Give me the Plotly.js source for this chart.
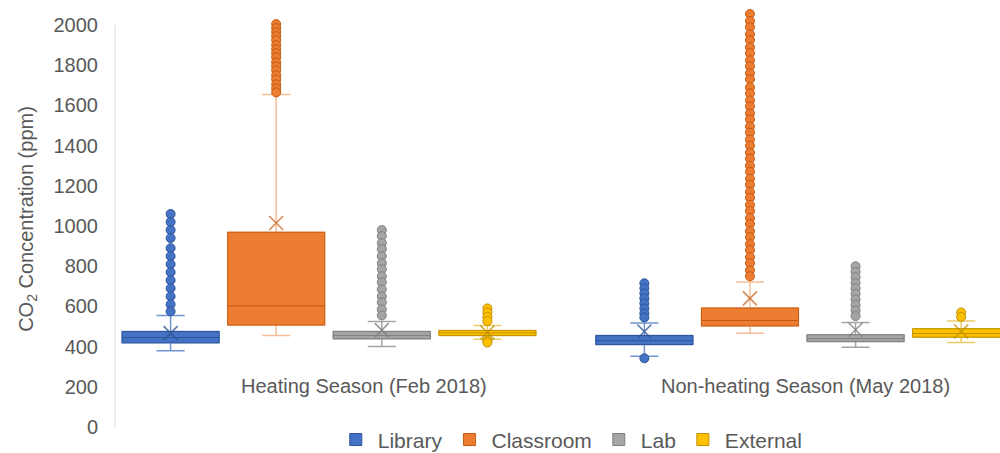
<!DOCTYPE html>
<html><head><meta charset="utf-8">
<script src="https://cdn.plot.ly/plotly-3.0.1.min.js"></script>
<style>html,body{margin:0;padding:0;background:#fff}#chart{width:1000px;height:453px}</style>
</head><body><div id="chart"></div>
<script>
// ---- data ----
const seasons = ['Heating Season (Feb 2018)', 'Non-heating Season (May 2018)'];
const seriesNames = ['Library', 'Classroom', 'Lab', 'External'];
// each row: one series, columns: [heating, non-heating]
const q1Values      = [[419, 410], [507, 503], [439, 425], [455, 447]];
const medianValues  = [[445, 430], [603, 530], [455, 440], [468, 465]];
const q3Values      = [[475, 455], [969, 592], [475, 459], [480, 489]];
const lowerWhisker  = [[379, 352], [455, 467], [400, 397], [437, 420]];
const upperWhisker  = [[555, 517], [1655, 721], [525, 520], [505, 528]];
const meanValues    = [[467, 475], [1015, 640], [482, 484], [470, 475]];

const libraryOutliers = [
  [1060, 1020, 980, 940, 890, 850, 810, 770, 730, 690, 650, 610, 575],
  [715, 690, 665, 640, 615, 590, 565, 545, 342]
];
const classroomOutliers = [
  [2005, 1985, 1965, 1945, 1925, 1900, 1880, 1860, 1840, 1815, 1795, 1775, 1750, 1730, 1705, 1685, 1665],
  [2055, 2020, 1990, 1955, 1925, 1890, 1860, 1825, 1795, 1760, 1730, 1690, 1660, 1625, 1595, 1560, 1530,
   1495, 1465, 1430, 1400, 1365, 1335, 1300, 1270, 1235, 1205, 1170, 1140, 1105, 1075, 1040, 1010, 975,
   945, 910, 880, 845, 815, 780, 750]
];
const labOutliers = [
  [980, 950, 915, 885, 850, 815, 785, 750, 720, 685, 650, 620, 585, 555],
  [800, 772, 745, 717, 690, 662, 635, 607, 580, 552]
];
const externalOutliers = [
  [590, 570, 548, 527, 430, 420],
  [570, 548]
];
const outlierValues = [libraryOutliers, classroomOutliers, labOutliers, externalOutliers];
const yTickValues = [0, 200, 400, 600, 800, 1000, 1200, 1400, 1600, 1800, 2000];

// ---- styles ----
const fillColors    = ['#4472C4', '#ED7D31', '#A5A5A5', '#FFC000'];
const edgeColors    = ['#2F5597', '#C55A11', '#7F7F7F', '#BF9000'];
const whiskerColors = ['rgba(68,114,196,0.75)', 'rgba(237,125,49,0.5)', 'rgba(127,127,127,0.7)', 'rgba(220,170,0,0.6)'];
const meanColors    = ['rgba(47,85,151,0.8)', 'rgba(197,90,17,0.7)', 'rgba(127,127,127,0.8)', 'rgba(191,144,0,0.8)'];

const FONT = 'Liberation Sans, Arial, sans-serif';
const TXT = '#595959';
const slotPitch = 0.2229;     // distance between series slots inside a season (x units)
const boxWidth = 0.2047;
const seasonLabelShift = [0.073, 0.005];
const yTop = 2070;            // axis range top so that outliers above 2000 remain visible

function pos(s, k) { return k + (s - (seriesNames.length - 1) / 2) * slotPitch; }

const traces = [];
seriesNames.forEach((name, s) => {
  seasons.forEach((season, k) => {
    const x = pos(s, k);
    traces.push({
      type: 'box', orientation: 'v', x: [x],
      q1: [q1Values[s][k]], median: [medianValues[s][k]], q3: [q3Values[s][k]],
      lowerfence: [lowerWhisker[s][k]], upperfence: [upperWhisker[s][k]],
      width: boxWidth, whiskerwidth: 0.29, boxpoints: false,
      fillcolor: 'rgba(0,0,0,0)', line: {color: whiskerColors[s], width: 1.5},
      showlegend: false, legendgroup: name, hoverinfo: 'skip'
    });
    traces.push({
      type: 'box', orientation: 'v', x: [x], name: name,
      q1: [q1Values[s][k]], median: [medianValues[s][k]], q3: [q3Values[s][k]],
      lowerfence: [q1Values[s][k]], upperfence: [q3Values[s][k]],
      width: boxWidth, whiskerwidth: 0, boxpoints: false,
      fillcolor: fillColors[s], line: {color: edgeColors[s], width: 1},
      showlegend: k === 0, legendgroup: name
    });
  });
});
seriesNames.forEach((name, s) => {
  seasons.forEach((season, k) => {
    const x = pos(s, k);
    const ys = outlierValues[s][k];
    traces.push({
      type: 'scatter', mode: 'markers', x: ys.map(() => x), y: ys,
      marker: {size: 9, color: fillColors[s], line: {color: edgeColors[s], width: 1}},
      cliponaxis: false, showlegend: false, legendgroup: name, hoverinfo: 'y'
    });
    traces.push({
      type: 'scatter', mode: 'markers', x: [x], y: [meanValues[s][k]],
      marker: {symbol: 'x-thin', size: 14, color: meanColors[s], line: {color: meanColors[s], width: 1.6}},
      cliponaxis: false, showlegend: false, legendgroup: name, hoverinfo: 'y'
    });
  });
});

const annotations = seasons.map((t, k) => ({
  text: t, x: k + seasonLabelShift[k], xref: 'x', y: 204, yref: 'y',
  xanchor: 'center', yanchor: 'middle', showarrow: false,
  font: {family: FONT, size: 20, color: TXT}
}));

const layout = {
  width: 1000, height: 453,
  margin: {l: 115, r: 0, t: 11, b: 26, autoexpand: false},
  paper_bgcolor: '#fff', plot_bgcolor: '#fff',
  font: {family: FONT, color: TXT},
  showlegend: true,
  legend: {orientation: 'h', x: 0.515, xanchor: 'center', y: -0.031, yanchor: 'middle',
           itemwidth: 34,
           font: {family: FONT, size: 21, color: TXT}, traceorder: 'normal', bgcolor: 'rgba(0,0,0,0)'},
  xaxis: {range: [-0.4517, 1.4163], showticklabels: false, showline: false, zeroline: false,
          showgrid: false, ticks: '', fixedrange: true},
  yaxis: {range: [0, yTop], tickmode: 'array', tickvals: yTickValues, showgrid: false, zeroline: false,
          showline: false, ticks: '',
          ticklabelstandoff: 16,
          tickfont: {family: FONT, size: 20, color: TXT},
          title: {text: 'CO<sub>2</sub> Concentration (ppm)', font: {family: FONT, size: 20, color: TXT}, standoff: 14},
          fixedrange: true},
  shapes: [{type: 'line', xref: 'paper', yref: 'y', x0: 0, x1: 0, y0: 0, y1: 2000,
            line: {color: '#d9d9d9', width: 1}}],
  annotations: annotations
};

Plotly.newPlot('chart', traces, layout, {displayModeBar: false, staticPlot: true});
</script>
</body></html>
